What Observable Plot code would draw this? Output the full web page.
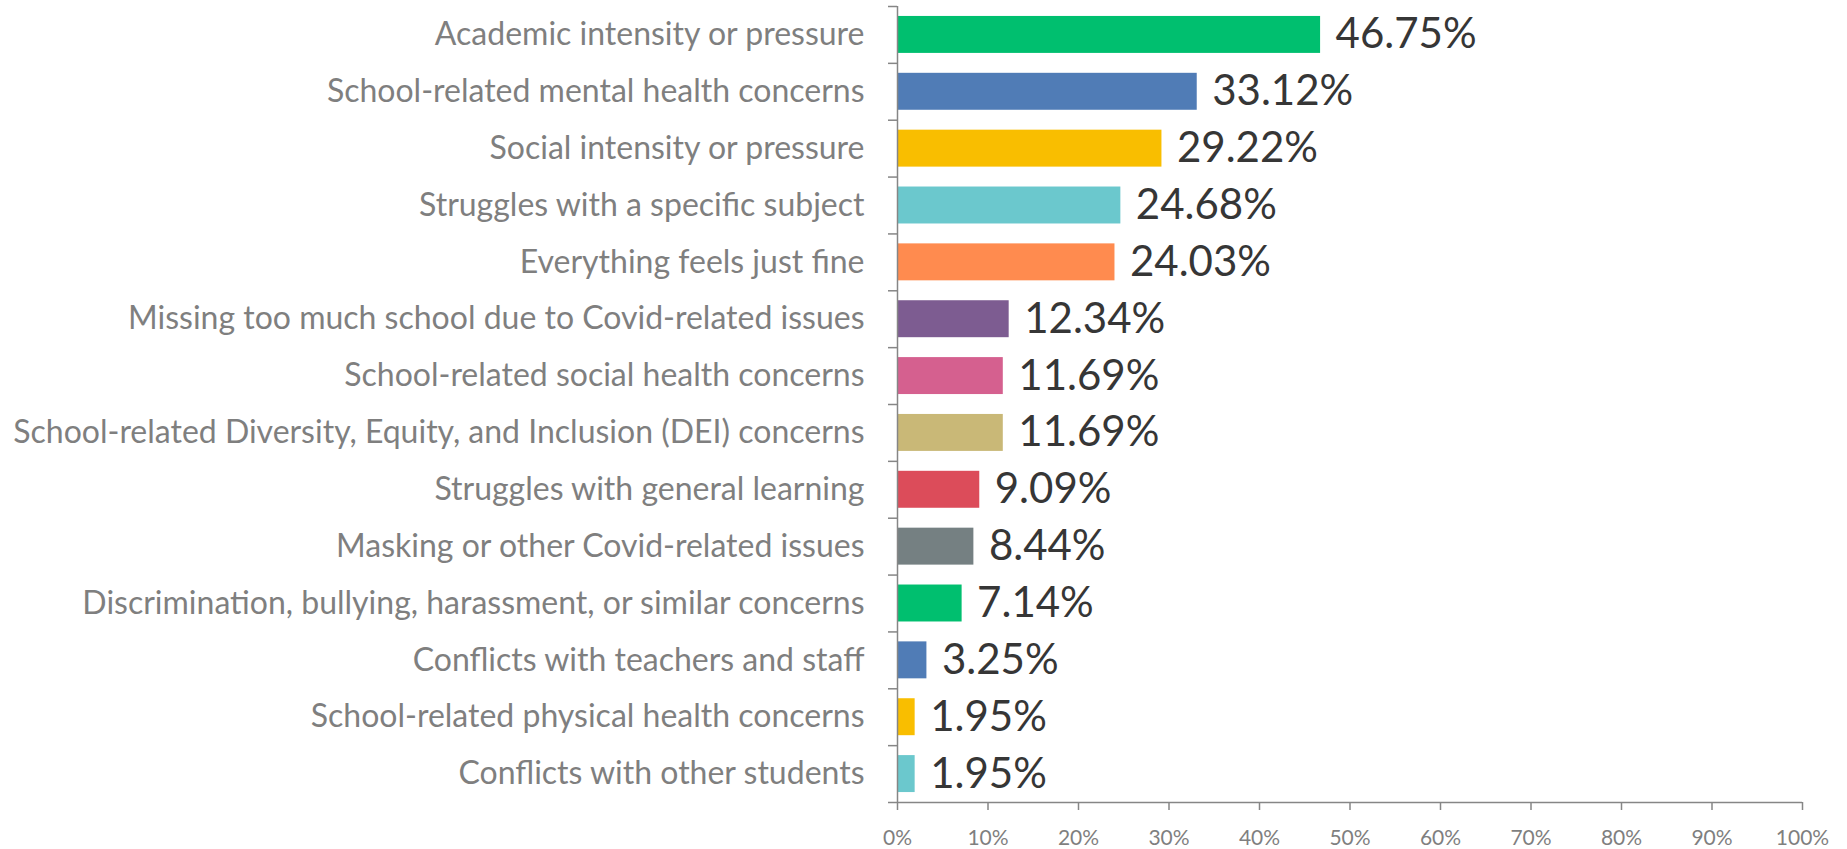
<!DOCTYPE html>
<html>
<head>
<meta charset="utf-8">
<script src="https://cdn.jsdelivr.net/npm/d3@7"></script>
<script src="https://cdn.jsdelivr.net/npm/@observablehq/plot@0.6"></script>
<style>
  html, body { margin: 0; padding: 0; background: #fff; }
  #chart svg { display: block; }
</style>
</head>
<body>
<div id="chart"></div>
<script>
const categories = [
  "Academic intensity or pressure",
  "School-related mental health concerns",
  "Social intensity or pressure",
  "Struggles with a specific subject",
  "Everything feels just fine",
  "Missing too much school due to Covid-related issues",
  "School-related social health concerns",
  "School-related Diversity, Equity, and Inclusion (DEI) concerns",
  "Struggles with general learning",
  "Masking or other Covid-related issues",
  "Discrimination, bullying, harassment, or similar concerns",
  "Conflicts with teachers and staff",
  "School-related physical health concerns",
  "Conflicts with other students"
];
const values = [46.75, 33.12, 29.22, 24.68, 24.03, 12.34, 11.69, 11.69, 9.09, 8.44, 7.14, 3.25, 1.95, 1.95];
const colors = ["#00BF6F", "#507CB6", "#F9BE00", "#6BC8CD", "#FF8B4F", "#7D5C91", "#D5608F", "#C9B877", "#DC4C5A", "#758082", "#00BF6F", "#507CB6", "#F9BE00", "#6BC8CD"];
const xTicks = [0, 10, 20, 30, 40, 50, 60, 70, 80, 90, 100];

const data = categories.map((c, i) => ({label: c, value: values[i] / 100, text: values[i].toFixed(2) + "%"}));

const W = 1847, H = 849;
const mTop = 6, mBottom = 47, mLeft = 897, mRight = 45;
const pad = 0.35;
const step = (H - mTop - mBottom) / categories.length;
const axisColor = "#868686";
const font = "Lato, 'Open Sans', sans-serif";
const last = categories[categories.length - 1];

const chart = Plot.plot({
  width: W,
  height: H,
  marginTop: mTop,
  marginBottom: mBottom,
  marginLeft: mLeft,
  marginRight: mRight,
  style: {fontFamily: font, background: "#fff"},
  x: {domain: [0, 1]},
  y: {domain: categories, paddingInner: pad, paddingOuter: pad / 2, round: false},
  color: {domain: categories, range: colors},
  marks: [
    Plot.barX(data, {x: "value", y: "label", fill: "label"}),
    Plot.text(data, {x: "value", y: "label", text: "text", dx: 15, textAnchor: "start", fontSize: 42, fill: "#363636"}),
    // y axis labels
    Plot.axisY({tickSize: 0, tickPadding: 33, fontSize: 32, fill: "#7f7f7f", label: null}),
    // boundary ticks between categories
    Plot.axisY({tickSize: 9, text: null, stroke: axisColor, strokeWidth: 1.5, dy: -step / 2, label: null}),
    Plot.axisY({ticks: [last], tickSize: 9, text: null, stroke: axisColor, strokeWidth: 1.5, dy: step / 2, label: null}),
    // x axis
    Plot.axisX({ticks: xTicks.map(t => t / 100), tickFormat: d => Math.round(d * 100) + "%", tickSize: 8, tickPadding: 20, fontSize: 21, fill: "#7f7f7f", stroke: axisColor, strokeWidth: 1.5, label: null}),
    Plot.ruleY([last], {y: d => d, dy: step / 2, stroke: axisColor, strokeWidth: 1.5}),
    Plot.ruleX([0], {stroke: axisColor, strokeWidth: 1.5})
  ]
});
document.getElementById("chart").appendChild(chart);
</script>
</body>
</html>
